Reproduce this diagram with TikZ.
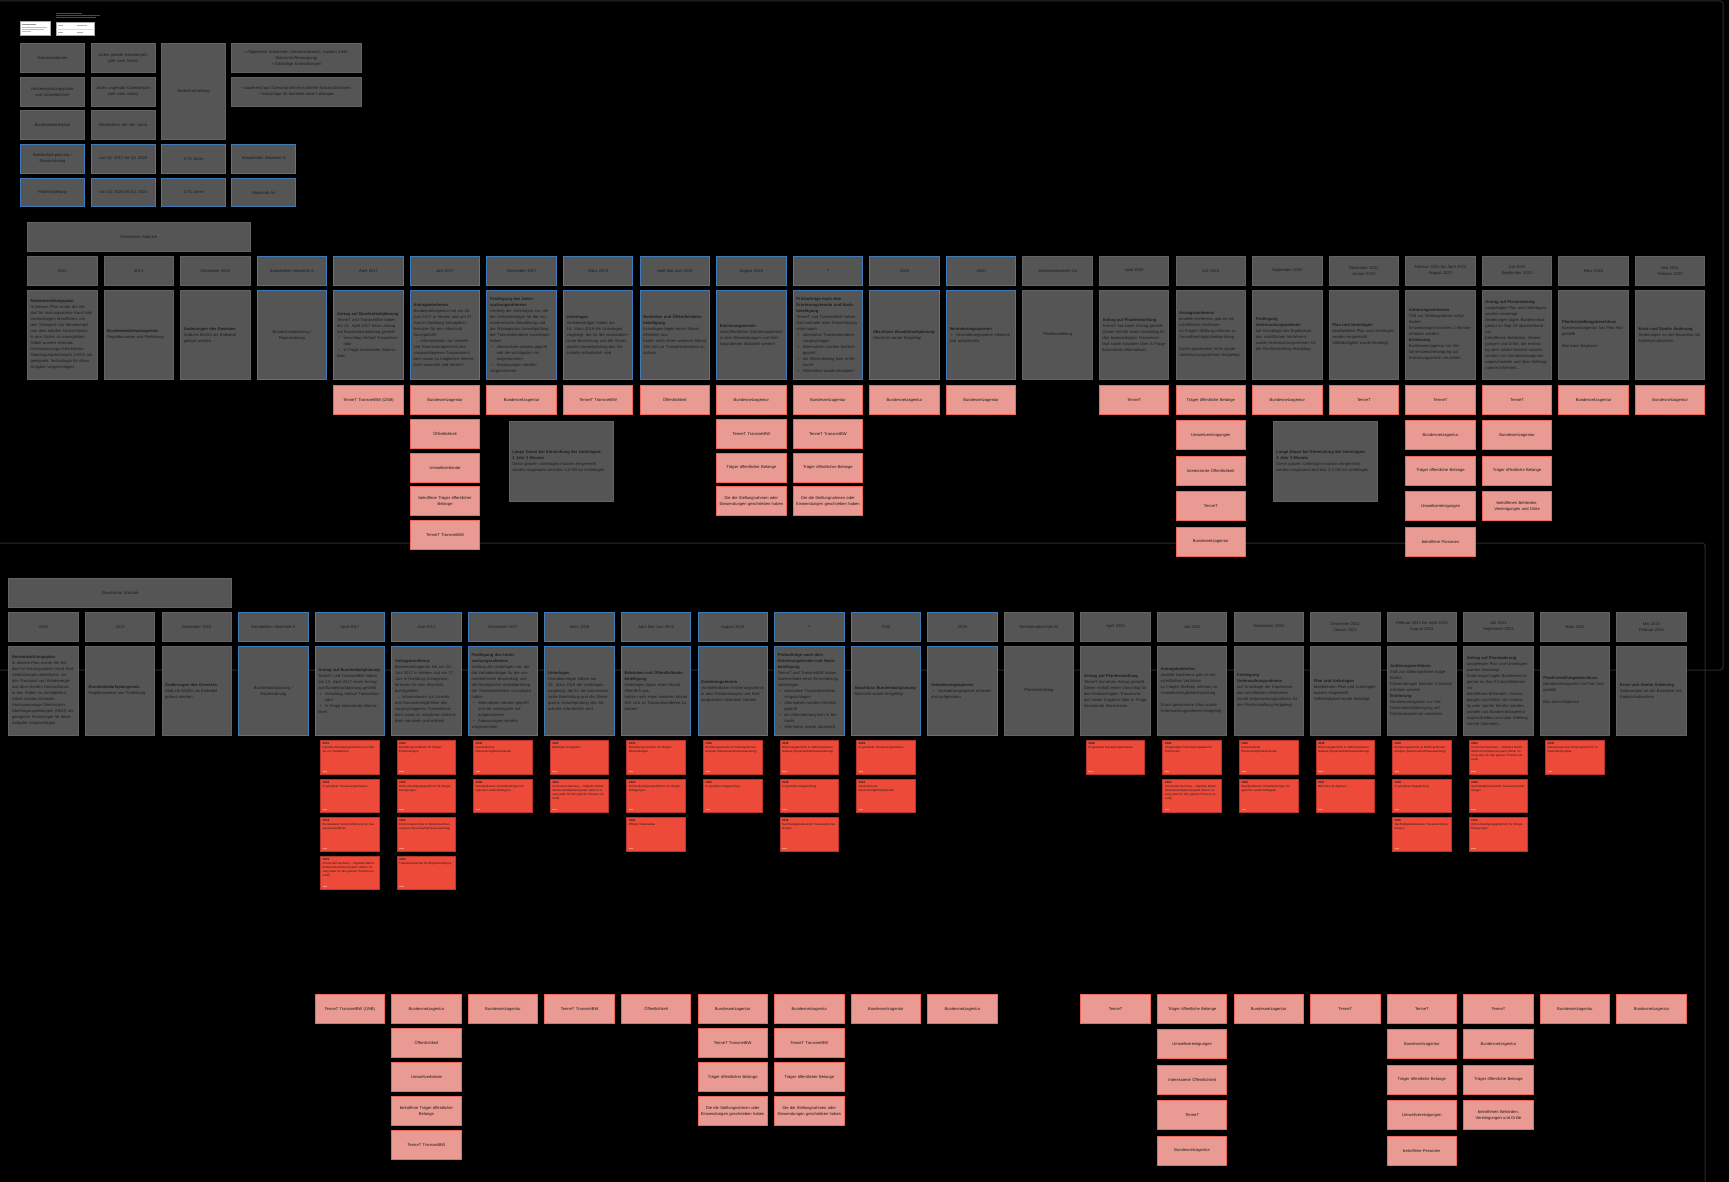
\documentclass[tikz,border=0pt]{standalone}
\usepackage{fontspec}
\setmainfont{Liberation Sans}
\definecolor{boxg}{HTML}{555555}
\definecolor{boxgb}{HTML}{636363}
\definecolor{blueb}{HTML}{3D7BB8}
\definecolor{pinkf}{HTML}{E99A92}
\definecolor{pinkb}{HTML}{F2685C}
\definecolor{redf}{HTML}{EE4A3A}
\definecolor{redb}{HTML}{B8362A}
\definecolor{redft}{HTML}{F29084}
\definecolor{txt}{HTML}{1C1C1C}
\definecolor{framec}{HTML}{2A2A2A}
\definecolor{capc}{HTML}{4A4A4A}
\newcommand\fs{\fontsize{4.1}{6}\selectfont}
\newcommand\fst{\fontsize{2.95}{4}\selectfont}
\newcommand\blt[1]{\par\noindent\hangindent=6.5pt\hangafter=1\hbox to 6.5pt{\hspace{1.5pt}\textbullet\hfil}#1}
\tikzset{
  gbox/.style={draw=boxgb, fill=boxg, line width=0.8pt, text=txt, font=\fs, inner sep=0pt},
  hdr/.style={gbox, anchor=north west, minimum width=69.5pt, minimum height=29pt, text width=64pt, align=center},
  det/.style={gbox, anchor=north west, minimum width=69.5pt, minimum height=89pt, text width=63pt, align=left},
  detc/.style={det, align=center},
  bl/.style={draw=blueb, line width=1pt},
  ttl/.style={gbox, anchor=north west, minimum width=222.6pt, minimum height=29pt, text width=200pt, align=center},
  lg/.style={gbox, anchor=north west, minimum width=64pt, minimum height=28.7pt, text width=61pt, align=center},
  note/.style={gbox, anchor=north west, minimum width=104pt, minimum height=80pt, text width=98pt, align=left},
  pk/.style={draw=pinkb, fill=pinkf, line width=0.9pt, anchor=north west, minimum width=69.5pt, minimum height=29pt, text width=66pt, align=center, inner sep=0pt, font=\fs, text=txt},
  stk/.style={draw=redb, fill=redf, line width=0.6pt, anchor=north west, minimum width=58.5pt, minimum height=33.5pt, inner sep=0pt},
  stktxt/.style={anchor=north west, text width=54pt, align=left, font=\fst, inner sep=0pt, text=txt},
  stkft/.style={draw=redft, line width=0.6pt},
  frm/.style={draw=framec, line width=1pt, rounded corners=3pt},
  tiny/.style={draw=#1, line width=0.6pt}
}
% detail texts
\newcommand\SLa{\textbf{Netzentwicklungsplan}\par In diesem Plan wurde der Bedarf für leistungsstarke Nord-Süd-Verbindungen identifiziert, um den Transport von Windenergie aus dem Norden Deutschlands in den Süden zu ermöglichen. Dabei wurden erstmals Hochspannungs-Gleichstrom-Übertragungsleitungen (HGÜ) als geeignete Technologie für diese Aufgabe vorgeschlagen.}
\newcommand\SLb{\textbf{Bundesbedarfsplangesetz}\par Regelbauweise war Freileitung}
\newcommand\SLc{\textbf{Änderungen des Gesetzes}\par SüdLink MUSS als Erdkabel gebaut werden}
\newcommand\SLd{Bundesfachplanung /\\Raumordnung}
\newcommand\SLe{\textbf{Antrag auf Bundesfachplanung}\par TenneT und TransnetBW haben am 13. April 2017 einen Antrag auf Bundesfachplanung gestellt\blt{Vorschlag Verlauf Trassenkorridor}\blt{In Frage kommende Alternativen}}
\newcommand\SLf{\textbf{Antragskonferenz}\par Bundesnetzagentur hat am 20. Juni 2017 in Verden und am 27. Juni in Hamburg Antragskonferenzen für den Abschnitt durchgeführt\par\hspace*{1.5pt}→ Informationen zur Umwelt- und Raumverträglichkeit des vorgeschlagenen Trassenkorridors sowie zu möglichen Alternativen sammeln und erörtert}
\newcommand\SLg{\textbf{Festlegung des Untersuchungsrahmens}\par Umfang der Unterlagen vor, die die Vorhabenträger für die raumordnerische Beurteilung und die Strategische Umweltprüfung der Trassenkorridore vorzulegen haben\blt{Alternativen werden geprüft und die wichtigsten mit aufgenommen}\blt{Anpassungen werden vorgenommen}}
\newcommand\SLh{\textbf{Unterlagen}\par Vorhabenträger haben am 15. März 2019 die Unterlagen vorgelegt, die für die raumordnerische Beurteilung und die Strategische Umweltprüfung des Abschnitts erforderlich sind}
\newcommand\SLi{\textbf{Behörden und Öffentlichkeitsbeteiligung}\par Unterlagen lagen einen Monat öffentlich aus\par hatten noch einen weiteren Monat Zeit sich zu Trassenkorridoren zu äußern}
\newcommand\SLj{\textbf{Erörterungstermin}\par nichtöffentlicher Erörterungstermin in dem Einwendungen und Stellungnahmen diskutiert werden}
\newcommand\SLk{\textbf{Prüfaufträge nach dem Erörterungstermin und Nachbeteiligung}\par TenneT und TransnetBW haben Sachverhalte einer Einschätzung unterzogen\blt{alternative Trassenkorridore vorgeschlagen}\blt{Alternativen wurden fachlich geprüft}\blt{ein Alternativweg kam in Betracht}\blt{Alternative wurde akzeptiert}}
\newcommand\SLl{\textbf{Abschluss Bundesfachplanung}\par Abschnitt wurde festgelegt}
\newcommand\SLm{\textbf{Veränderungssperren}\blt{Veränderungssperre erlassen und aufgehoben}}
\newcommand\SLn{Planfeststellung}
\newcommand\SLo{\textbf{Antrag auf Planfeststellung}\par TenneT hat einen Antrag gestellt\par Dieser enthält einen Vorschlag für den beabsichtigten Trassenverlauf sowie Angaben über in Frage kommende Alternativen.}
\newcommand\SLp{\textbf{Antragskonferenz}\par anstelle Konferenz gab es ein schriftliches Verfahren\par zu Fragen Stellung nehmen zu Umweltverträglichkeitsprüfung\par\vspace{6pt}Durch gewonnene Infos wurde Untersuchungsrahmen festgelegt}
\newcommand\SLq{\textbf{Festlegung}\par\textbf{Untersuchungsrahmen}\par auf Grundlage der Ergebnisse des schriftlichen Verfahrens wurde Untersuchungsrahmen für die Planfeststellung festgelegt}
\newcommand\SLr{\textbf{Plan und Unterlagen}\par bearbeiteten Plan und Unterlagen wurden eingereicht\par Vollständigkeit wurde bestätigt}
\newcommand\SLs{\textbf{Anhörungsverfahren}\par TöB zur Stellungnahme aufgefordert\par Einwendungen konnten 2 Monate erhoben werden\par\textbf{Erörterung}\par Bundesnetzagentur zur Verfahrensbeschleunigung auf Erörterungstermin verzichtet}
\newcommand\SLt{\textbf{Antrag auf Planänderung}\par ausgelegter Plan und Unterlagen wurden beantragt\par Änderungen lagen Bundesnetzagentur im Sep 23 abschließend vor\par betroffenen Behörden, Vereinigungen und Dritte, die erstmalig oder stärker berührt werden, wurden von Bundesnetzagentur angeschrieben und über Stellungnahme informiert...}
\newcommand\SLu{\textbf{Planfeststellungsbeschluss}\par Bundesnetzagentur hat Plan festgestellt\par\vspace{6pt}Bau kann beginnen}
\newcommand\SLv{\textbf{Erste und Zweite Änderung}\par Änderungen an der Bauweise mit Kabelschutzrohren}
% one timeline row: #1 prefix, #2 x0, #3 header y, #4 first header
\newcommand\SLrow[4]{%
\node[ttl] (#1ttl) at ({#2},{#3-34}) {Geschichte SüdLink};
\node[hdr] (#1h0) at ({#2},{#3}) {#4};
\node[hdr] (#1h1) at ({#2+1*76.57},{#3}) {2013};
\node[hdr] (#1h2) at ({#2+2*76.57},{#3}) {Dezember 2015};
\node[hdr,bl] (#1h3) at ({#2+3*76.57},{#3}) {Komplettion Abschnitt A};
\node[hdr,bl] (#1h4) at ({#2+4*76.57},{#3}) {April 2017};
\node[hdr,bl] (#1h5) at ({#2+5*76.57},{#3}) {Juni 2017};
\node[hdr,bl] (#1h6) at ({#2+6*76.57},{#3}) {Dezember 2017};
\node[hdr,bl] (#1h7) at ({#2+7*76.57},{#3}) {März 2019};
\node[hdr,bl] (#1h8) at ({#2+8*76.57},{#3}) {April Mai Juni 2019};
\node[hdr,bl] (#1h9) at ({#2+9*76.57},{#3}) {August 2019};
\node[hdr,bl] (#1h10) at ({#2+10*76.57},{#3}) {?};
\node[hdr,bl] (#1h11) at ({#2+11*76.57},{#3}) {2020};
\node[hdr,bl] (#1h12) at ({#2+12*76.57},{#3}) {2020};
\node[hdr] (#1h13) at ({#2+13*76.57},{#3}) {Streckenabschnitt A4};
\node[hdr] (#1h14) at ({#2+14*76.57},{#3}) {April 2020};
\node[hdr] (#1h15) at ({#2+15*76.57},{#3}) {Juli 2020};
\node[hdr] (#1h16) at ({#2+16*76.57},{#3}) {September 2020};
\node[hdr] (#1h17) at ({#2+17*76.57},{#3}) {Dezember 2022\\Januar 2023};
\node[hdr] (#1h18) at ({#2+18*76.57},{#3}) {Februar 2023 bis April 2023\\August 2023};
\node[hdr] (#1h19) at ({#2+19*76.57},{#3}) {Juli 2023\\September 2023};
\node[hdr] (#1h20) at ({#2+20*76.57},{#3}) {März 2024};
\node[hdr] (#1h21) at ({#2+21*76.57},{#3}) {Mai 2024\\Februar 2025};
\node[det] (#1d0) at ({#2},{#3+34}) {\SLa};
\node[det] (#1d1) at ({#2+1*76.57},{#3+34}) {\SLb};
\node[det] (#1d2) at ({#2+2*76.57},{#3+34}) {\SLc};
\node[detc,bl] (#1d3) at ({#2+3*76.57},{#3+34}) {\SLd};
\node[det,bl] (#1d4) at ({#2+4*76.57},{#3+34}) {\SLe};
\node[det,bl] (#1d5) at ({#2+5*76.57},{#3+34}) {\SLf};
\node[det,bl] (#1d6) at ({#2+6*76.57},{#3+34}) {\SLg};
\node[det,bl] (#1d7) at ({#2+7*76.57},{#3+34}) {\SLh};
\node[det,bl] (#1d8) at ({#2+8*76.57},{#3+34}) {\SLi};
\node[det,bl] (#1d9) at ({#2+9*76.57},{#3+34}) {\SLj};
\node[det,bl] (#1d10) at ({#2+10*76.57},{#3+34}) {\SLk};
\node[det,bl] (#1d11) at ({#2+11*76.57},{#3+34}) {\SLl};
\node[det,bl] (#1d12) at ({#2+12*76.57},{#3+34}) {\SLm};
\node[detc] (#1d13) at ({#2+13*76.57},{#3+34}) {\SLn};
\node[det] (#1d14) at ({#2+14*76.57},{#3+34}) {\SLo};
\node[det] (#1d15) at ({#2+15*76.57},{#3+34}) {\SLp};
\node[det] (#1d16) at ({#2+16*76.57},{#3+34}) {\SLq};
\node[det] (#1d17) at ({#2+17*76.57},{#3+34}) {\SLr};
\node[det] (#1d18) at ({#2+18*76.57},{#3+34}) {\SLs};
\node[det] (#1d19) at ({#2+19*76.57},{#3+34}) {\SLt};
\node[det] (#1d20) at ({#2+20*76.57},{#3+34}) {\SLu};
\node[det] (#1d21) at ({#2+21*76.57},{#3+34}) {\SLv};
}
% a column of pink boxes: #1 prefix, #2 x0, #3 y0, #4 column, #5 pitch, #6 list
\newcommand\pinkcol[6]{\foreach[count=\k from 0] \t in {#6} {\node[pk] (#1#4-\k) at ({#2+#4*76.57},{#3+\k*#5}) {\t};}}
\newcommand\SLpinks[4]{%
\pinkcol{#1}{#2}{#3}{4}{#4}{TenneT TransnetBW (ÜNB)}
\pinkcol{#1}{#2}{#3}{5}{#4}{Bundesnetzagentur, Öffentlichkeit, Umweltverbände, {betroffene Träger öffentlicher\\Belange}, TenneT TransnetBW}
\pinkcol{#1}{#2}{#3}{6}{#4}{Bundesnetzagentur}
\pinkcol{#1}{#2}{#3}{7}{#4}{TenneT TransnetBW}
\pinkcol{#1}{#2}{#3}{8}{#4}{Öffentlichkeit}
\pinkcol{#1}{#2}{#3}{9}{#4}{Bundesnetzagentur, TenneT TransnetBW, Träger öffentlicher Belange, {Die die Stellungnahmen oder\\Einwendungen geschrieben haben}}
\pinkcol{#1}{#2}{#3}{10}{#4}{Bundesnetzagentur, TenneT TransnetBW, Träger öffentlicher Belange, {Die die Stellungnahmen oder\\Einwendungen geschrieben haben}}
\pinkcol{#1}{#2}{#3}{11}{#4}{Bundesnetzagentur}
\pinkcol{#1}{#2}{#3}{12}{#4}{Bundesnetzagentur}
\pinkcol{#1}{#2}{#3}{14}{35.4}{TenneT}
\pinkcol{#1}{#2}{#3}{15}{35.4}{Träger öffentliche Belange, Umweltvereinigungen, Interessierte Öffentlichkeit, TenneT, Bundesnetzagentur}
\pinkcol{#1}{#2}{#3}{16}{35.4}{Bundesnetzagentur}
\pinkcol{#1}{#2}{#3}{17}{35.4}{TenneT}
\pinkcol{#1}{#2}{#3}{18}{35.4}{TenneT, Bundesnetzagentur, Träger öffentliche Belange, Umweltvereinigungen, betroffene Personen}
\pinkcol{#1}{#2}{#3}{19}{35.4}{TenneT, Bundesnetzagentur, Träger öffentliche Belange, {betroffenen Behörden,\\Vereinigungen und Dritte}}
\pinkcol{#1}{#2}{#3}{20}{35.4}{Bundesnetzagentur}
\pinkcol{#1}{#2}{#3}{21}{35.4}{Bundesnetzagentur}
}
% sticky notes: #1 column, #2 row, #3 id, #4 text
\newcommand\stick[4]{%
\node[stk] (s#1-#2) at ({8.4+#1*76.57+5.5},{740+#2*38.5}) {};
\node[stktxt] (s#1-#2t) at ([xshift=2.2pt,yshift=-2.6pt]s#1-#2.north west) {\textbf{\##3}\\#4};
\draw[stkft] ([xshift=2.5pt,yshift=3pt]s#1-#2.south west) -- ++(4.5,0);
}
\newcommand\stCG{Connected Germany – Digitales Behördenkommunikationssystem (Wenn Lösung wäre für den ganzen Prozess sinnvoll)}
\newcommand\stEA{Erörterungstermine \& Stellungnahmen-Analyse (Sprachaufnahmeauswertung)}
\newcommand\stKI{KI-gestützte Trassierungssoftware}
\newcommand\stKP{KI-gestützte Klageprüfung}
\newcommand\stNT{Nachhaltigkeitsbasierte Trassenentscheidungen}
\newcommand\stOB{Online-Beteiligungsplattform für Bürgerbefragungen}
\newcommand\stBV{Bündelungsverfahren für Bürger-Einwendungen}
\newcommand\stAR{Automatisierte Raumverträglichkeitsstudie}
\newcommand\stSU{Standardisierte Umweltprüfungen für typische Landschaftstypen}
\newcommand\stBA{Behörden-KI-Agenten}
\begin{document}
\begin{tikzpicture}[x=1pt,y=-1pt]
\useasboundingbox (0,0) rectangle (1729,1182);
\fill[black] (0,0) rectangle (1729,1182);
% frames
\draw[frm] (-5,0.8) rectangle (1723,670);
\draw[frm] (-5,543) rectangle (1705,1200);
% tiny legend at top
\node[draw=gray!70, fill=white, line width=0.5pt, anchor=north west, minimum width=30pt, minimum height=13.7pt, inner sep=0pt] (lw1) at (20,21.3) {};
\draw[tiny=gray!80] ([xshift=2pt,yshift=-3pt]lw1.north west) -- ++(14,0);
\draw[tiny=gray!50] ([xshift=2pt,yshift=-6pt]lw1.north west) -- ++(25,0);
\draw[tiny=gray!50] ([xshift=2pt,yshift=-8pt]lw1.north west) -- ++(22,0);
\draw[tiny=gray!50] ([xshift=2pt,yshift=-10.5pt]lw1.north west) -- ++(9,0);
\node[draw=gray!70, fill=white, line width=0.5pt, anchor=north west, minimum width=38.3pt, minimum height=12.7pt, inner sep=0pt] (lw2) at (56,22.3) {};
\draw[draw=gray!30, line width=0.4pt] (lw2.west) -- (lw2.east);
\draw[tiny=gray!60] ([xshift=2pt,yshift=-3.2pt]lw2.north west) -- ++(5,0);
\draw[tiny=gray!60] ([xshift=21pt,yshift=-3.2pt]lw2.north west) -- ++(10,0);
\draw[tiny=gray!60] ([xshift=2pt,yshift=3.2pt]lw2.south west) -- ++(5,0);
\draw[tiny=gray!60] ([xshift=21pt,yshift=3.2pt]lw2.south west) -- ++(6,0);
\coordinate (cap) at (56,13.5);
\draw[tiny=capc] (cap) -- ++(26,0);
\draw[tiny=capc] ([yshift=-2pt]cap) -- ++(44,0);
\draw[tiny=capc] ([yshift=-4pt]cap) -- ++(40,0);
% legend grid
\node[lg] (l11) at (20,43.3) {Szenariorahmen};
\node[lg] (l12) at (90.7,43.3) {Jedes gerade Kalenderjahr\\(alle zwei Jahre)};
\node[lg, minimum height=95.7pt] (l13) at (161.3,43.3) {Bedarfsermittlung};
\node[lg, minimum width=129.4pt, text width=124pt] (l14) at (231.3,43.3) {\textbullet\ Allgemeine Annahmen (Stromverbrauch, Ausbau Ziele,\\Wasserstofferzeugung)\\\textbullet\ Zukünftige Entwicklungen};
\node[lg] (l21) at (20,77) {Netzentwicklungspläne\\und Umweltbericht};
\node[lg] (l22) at (90.7,77) {Jedes ungerade Kalenderjahr\\(alle zwei Jahre)};
\node[lg, minimum width=129.4pt, text width=124pt] (l24) at (231.3,77) {\textbullet\ basierend auf Szenariorahmen konkrete Netzmaßnahmen\\\textbullet\ Vorschläge für konkrete neue Leitungen};
\node[lg] (l31) at (20,110.3) {Bundesbedarfsplan};
\node[lg] (l32) at (90.7,110.3) {Mindestens alle vier Jahre};
\node[lg,bl] (l41) at (20,144) {Bundesfachplanung /\\Raumordnung};
\node[lg,bl] (l42) at (90.7,144) {von Q2 2017 bis Q1 2020};
\node[lg,bl] (l43) at (161.3,144) {2,75 Jahre};
\node[lg,bl] (l44) at (231.3,144) {Komplettion Abschnitt A};
\node[lg,bl] (l51) at (20,177.7) {Planfeststellung};
\node[lg,bl] (l52) at (90.7,177.7) {von Q2 2020 bis Q1 2024};
\node[lg,bl] (l53) at (161.3,177.7) {3,75 Jahre};
\node[lg,bl] (l54) at (231.3,177.7) {Abschnitt A4};
% top timeline
\SLrow{t}{27}{256}{2012}
\SLpinks{tp}{27}{385}{33.8}
\node[note] (tn1) at (509,421) {\textbf{Lange Dauer bei Einreichung der Unterlagen:}\par\textbf{1 Jahr 3 Monate}\par Diese ganzen Unterlagen müssen eingereicht\par werden insgesamt sind das 1,8 GB an Unterlagen};
\node[note] (tn2) at (1273,421) {\textbf{Lange Dauer bei Einreichung der Unterlagen:}\par\textbf{2 Jahr 3 Monate}\par Diese ganzen Unterlagen müssen eingereicht\par werden insgesamt sind das 3,3 GB an Unterlagen};
% bottom timeline
\SLrow{b}{8.4}{612}{2010}
\SLpinks{bp}{8.4}{994}{34}
% sticky notes
\stick{4}{0}{031}{Hybrides Beteiligungsverfahren auf Basis von Reallaboren}
\stick{4}{1}{038}{\stKI}
\stick{4}{2}{034}{Bundesweite Vereinheitlichung der Netzausbauverfahren}
\stick{4}{3}{003}{\stCG}
\stick{5}{0}{033}{\stBV}
\stick{5}{1}{015}{\stOB}
\stick{5}{2}{036}{\stEA}
\stick{5}{3}{043}{Transparenzportal für Bürgerbeteiligung}
\stick{6}{0}{042}{\stAR}
\stick{6}{1}{008}{\stSU}
\stick{7}{0}{037}{\stBA}
\stick{7}{1}{003}{\stCG}
\stick{8}{0}{033}{\stBV}
\stick{8}{1}{015}{\stOB}
\stick{8}{2}{001}{Offener Netzausbau}
\stick{9}{0}{036}{\stEA}
\stick{9}{1}{040}{\stKP}
\stick{10}{0}{036}{\stEA}
\stick{10}{1}{040}{\stKP}
\stick{10}{2}{030}{\stNT}
\stick{11}{0}{038}{\stKI}
\stick{11}{1}{042}{\stAR}
\stick{14}{0}{038}{\stKI}
\stick{15}{0}{028}{Vorgefertigte Informationspakete für Kommunen}
\stick{15}{1}{003}{\stCG}
\stick{16}{0}{042}{\stAR}
\stick{16}{1}{008}{\stSU}
\stick{17}{0}{036}{\stEA}
\stick{17}{1}{037}{\stBA}
\stick{18}{0}{036}{\stEA}
\stick{18}{1}{040}{\stKP}
\stick{18}{2}{030}{\stNT}
\stick{19}{0}{003}{\stCG}
\stick{19}{1}{030}{\stNT}
\stick{19}{2}{015}{\stOB}
\stick{20}{0}{047}{Arbeitsressourcen-Planungstool für Infrastrukturprojekte}
\end{tikzpicture}
\end{document}
